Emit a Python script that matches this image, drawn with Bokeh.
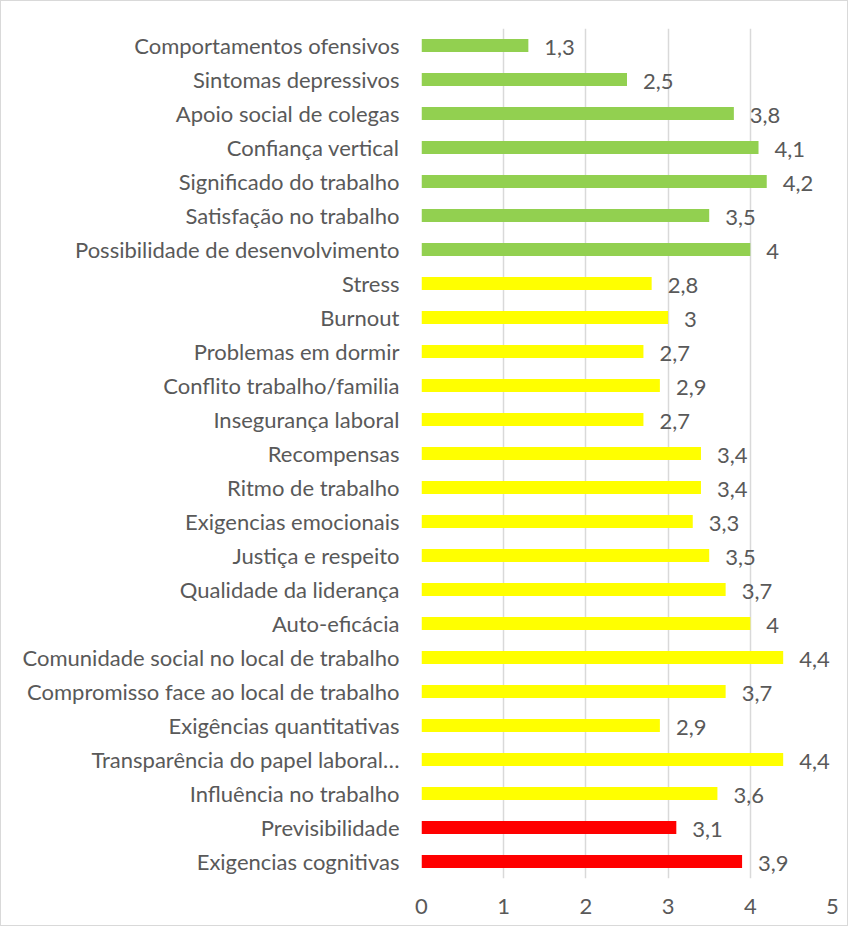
from bokeh.plotting import figure
from bokeh.models import ColumnDataSource, FactorRange, Range1d, FixedTicker
from bokeh.core.properties import value
from bokeh.embed import file_html
from bokeh.resources import INLINE

categories = [
    "Comportamentos ofensivos",
    "Sintomas depressivos",
    "Apoio social de colegas",
    "Confiança vertical",
    "Significado do trabalho",
    "Satisfação no trabalho",
    "Possibilidade de desenvolvimento",
    "Stress",
    "Burnout",
    "Problemas em dormir",
    "Conflito trabalho/familia",
    "Insegurança laboral",
    "Recompensas",
    "Ritmo de trabalho",
    "Exigencias emocionais",
    "Justiça e respeito",
    "Qualidade da liderança",
    "Auto-eficácia",
    "Comunidade social no local de trabalho",
    "Compromisso face ao local de trabalho",
    "Exigências quantitativas",
    "Transparência do papel laboral…",
    "Influência no trabalho",
    "Previsibilidade",
    "Exigencias cognitivas",
]
values = [1.3, 2.5, 3.8, 4.1, 4.2, 3.5, 4.0, 2.8, 3.0, 2.7, 2.9, 2.7, 3.4, 3.4,
          3.3, 3.5, 3.7, 4.0, 4.4, 3.7, 2.9, 4.4, 3.6, 3.1, 3.9]
groups = ["green"] * 7 + ["yellow"] * 16 + ["red"] * 2
group_colors = {"green": "#92D050", "yellow": "#FFFF00", "red": "#FF0000"}
x_ticks = [0, 1, 2, 3, 4, 5]


def fmt(v):
    s = ("%g" % v)
    return s.replace(".", ",")


labels = [fmt(v) for v in values]
colors = [group_colors[g] for g in groups]

source = ColumnDataSource(dict(cat=categories, val=values, lab=labels, col=colors))

FONT = "Lato"
TXT = "#595959"

p = figure(
    width=848, height=926,
    y_range=FactorRange(factors=list(reversed(categories)), range_padding=0),
    x_range=Range1d(0, 5),
    output_backend="svg", toolbar_location=None,
    min_border_left=420, min_border_right=17, min_border_top=27, min_border_bottom=49,
)
p.styles = {"border": "1px solid #d9d9d9", "box-sizing": "border-box"}

p.hbar(y="cat", right="val", left=0, height=0.38, color="col", line_color=None, source=source)
p.text(x="val", y="cat", text="lab", source=source, x_offset=16, y_offset=2,
       text_align="left", text_baseline="middle",
       text_font=value(FONT), text_font_size="22px", text_color=TXT)

p.outline_line_color = None
p.xgrid.grid_line_color = "#d9d9d9"
p.xgrid.grid_line_width = 1.5
p.ygrid.grid_line_color = None

p.xaxis.ticker = FixedTicker(ticks=x_ticks)
p.xaxis.axis_line_color = None
p.xaxis.major_tick_line_color = None
p.xaxis.minor_tick_line_color = None
p.xaxis.major_label_standoff = 14
p.xaxis.major_label_text_font = FONT
p.xaxis.major_label_text_font_size = "22px"
p.xaxis.major_label_text_color = TXT

p.yaxis.axis_line_color = None
p.yaxis.major_tick_line_color = None
p.yaxis.minor_tick_line_color = None
p.yaxis.major_label_standoff = 16
p.yaxis.major_label_text_font = FONT
p.yaxis.major_label_text_font_size = "22px"
p.yaxis.major_label_text_color = TXT

open("out.html", "w").write(file_html(p, INLINE))
